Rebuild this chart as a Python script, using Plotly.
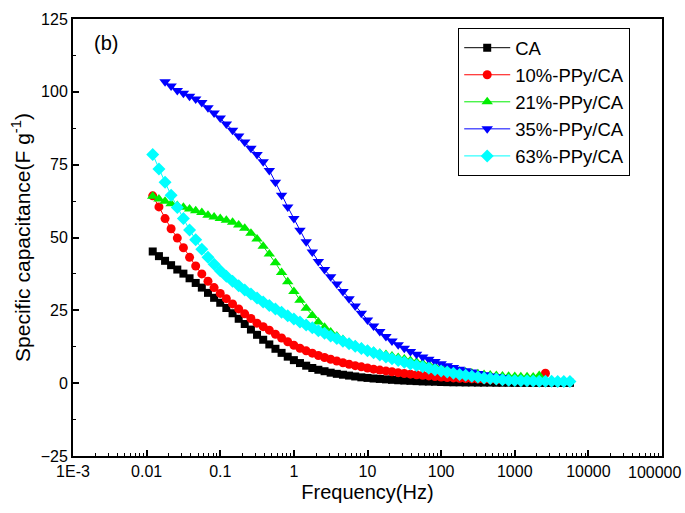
import plotly.graph_objects as go

# Frequencies (Hz), ~12 points per decade
freq = [0.0121, 0.0147, 0.0178, 0.0215, 0.0261, 0.0316, 0.0383, 0.0464, 0.0562, 0.0681, 0.0825,
        0.1, 0.121, 0.147, 0.178, 0.215, 0.261, 0.316, 0.383, 0.464, 0.562, 0.681, 0.825,
        1, 1.21, 1.47, 1.78, 2.15, 2.61, 3.16, 3.83, 4.64, 5.62, 6.81, 8.25,
        10, 12.1, 14.7, 17.8, 21.5, 26.1, 31.6, 38.3, 46.4, 56.2, 68.1, 82.5,
        100, 121, 147, 178, 215, 261, 316, 383, 464, 562, 681, 825,
        1000, 1210, 1470, 1780, 2150, 2610, 3160, 3830, 4640, 5620]

ca = [45.2, 43.6, 42.0, 40.5, 39.0, 37.6, 36.0, 34.4, 32.8, 31.0, 29.3,
      27.6, 25.8, 24.0, 22.1, 20.3, 18.4, 16.6, 14.9, 13.3, 11.8, 10.4, 9.1,
      7.9, 6.9, 6.0, 5.2, 4.6, 4.1, 3.6, 3.2, 2.9, 2.6, 2.3, 2.0,
      1.8, 1.6, 1.45, 1.3, 1.15, 1.0, 0.9, 0.8, 0.7, 0.6, 0.55, 0.5,
      0.4, 0.35, 0.3, 0.3, 0.25, 0.25, 0.2, 0.2, 0.2, 0.15, 0.15, 0.15,
      0.1, 0.1, 0.1, 0.1, 0.1, 0.1, 0.1, 0.1, 0.1, 0.1]

ppy10 = [64.3, 60.5, 56.5, 53.0, 49.8, 46.5, 43.2, 40.2, 37.5, 35.0, 32.8,
         30.8, 29.0, 27.2, 25.5, 23.8, 22.2, 20.6, 19.4, 18.2, 16.8, 15.5, 14.2,
         13.0, 12.0, 11.1, 10.3, 9.5, 8.8, 8.2, 7.6, 7.0, 6.5, 6.0, 5.6,
         5.2, 4.8, 4.5, 4.2, 3.9, 3.6, 3.3, 3.1, 2.9, 2.7, 2.5, 2.3,
         2.1, 1.95, 1.8, 1.7, 1.6, 1.5, 1.4, 1.3, 1.2, 1.15, 1.1, 1.05,
         1.0, 0.95, 0.9, 0.9, 0.85, 3.4, None, None, None, None]

ppy21 = [64.2, 63.2, 62.4, 61.6, 61.0, 60.4, 59.8, 59.2, 58.6, 57.6, 57.0,
         56.5, 55.9, 55.2, 54.3, 53.2, 51.5, 49.5, 47.0, 44.3, 41.3, 38.0, 34.8,
         31.5, 28.5, 25.7, 23.2, 21.0, 19.2, 17.6, 16.2, 15.0, 13.9, 13.0, 12.2,
         11.5, 10.9, 10.3, 9.8, 9.3, 8.8, 8.3, 7.8, 7.3, 6.8, 6.3, 5.8,
         5.3, 4.9, 4.5, 4.1, 3.8, 3.5, 3.2, 3.0, 2.8, 2.6, 2.5, 2.4,
         2.3, 2.2, 2.2, 2.1, 2.6, None, None, None, None, None]

ppy35 = [None, None, 103.5, 102.0, 100.5, 99.5, 98.5, 97.5, 96.3, 94.5, 92.7,
         91.0, 89.0, 86.8, 84.8, 82.8, 80.6, 78.5, 76.0, 73.0, 69.0, 64.5, 60.5,
         56.5, 52.5, 48.5, 45.0, 41.8, 39.0, 36.5, 34.0, 31.5, 29.0, 26.5, 24.0,
         21.7, 19.6, 17.7, 16.0, 14.5, 13.2, 12.0, 10.9, 9.9, 9.0, 8.2, 7.4,
         6.7, 6.0, 5.4, 4.8, 4.3, 3.8, 3.3, 2.9, 2.5, 2.2, 1.9, None,
         None, None, None, None, None, None, None, None, None, None]

ppy63 = [78.5, 73.5, 69.0, 64.5, 60.3, 56.5, 52.6, 49.2, 46.0, 43.2, 40.8,
         38.6, 36.7, 35.0, 33.4, 32.0, 30.6, 29.2, 27.9, 26.7, 25.5, 24.3, 23.1,
         22.0, 21.0, 20.0, 19.0, 18.0, 17.1, 16.2, 15.3, 14.4, 13.5, 12.7, 11.9,
         11.1, 10.4, 9.7, 9.0, 8.4, 7.8, 7.2, 6.6, 6.1, 5.6, 5.1, 4.6,
         4.2, 3.8, 3.4, 3.0, 2.7, 2.4, 2.1, 1.8, 1.6, 1.4, 1.2, 1.0,
         0.9, 0.85, 0.8, 0.75, 0.7, 0.7, 0.65, 0.6, 0.6, 0.6]

names = ["CA", "10%-PPy/CA", "21%-PPy/CA", "35%-PPy/CA", "63%-PPy/CA"]
series = [ca, ppy10, ppy21, ppy35, ppy63]
colors = ["#000000", "#FF0000", "#00EE00", "#0000FF", "#00FFFF"]
symbols = ["square", "circle", "triangle-up", "triangle-down", "diamond"]
sizes = [8, 9, 10, 10, 10]

x_tickvals = [0.001, 0.01, 0.1, 1, 10, 100, 1000, 10000, 100000]
x_ticktext = ["1E-3", "0.01", "0.1", "1", "10", "100", "1000", "10000", "100000"]
y_tickvals = [-25, 0, 25, 50, 75, 100, 125]

# minor tick positions (axis decoration only)
x_minor = [m * d for d in x_tickvals[:-1] for m in range(2, 10)]
y_minor = [v + 12.5 for v in y_tickvals[:-1]]

FONT = "Liberation Sans, Arial, sans-serif"

fig = go.Figure()
for n, s, c, sym, sz in zip(names, series, colors, symbols, sizes):
    xs = [f for f, v in zip(freq, s) if v is not None]
    ys = [v for v in s if v is not None]
    fig.add_trace(go.Scatter(
        x=xs, y=ys, name=n, mode="lines+markers",
        line=dict(color=c, width=1),
        marker=dict(symbol=sym, size=sz, color=c, line=dict(width=0)),
    ))

# last tick label is drawn as an annotation, nudged left so it stays inside the page
shown_ticktext = x_ticktext[:-1] + [""]

fig.update_layout(
    width=685, height=513,
    margin=dict(l=73, r=23, t=19, b=57),
    paper_bgcolor="white", plot_bgcolor="white",
    font=dict(family=FONT, color="black", size=16),
    showlegend=True,
    legend=dict(
        x=0.654, y=0.979, xanchor="left", yanchor="top",
        bordercolor="black", borderwidth=1, bgcolor="white",
        font=dict(family=FONT, size=18.5, color="black"),
        itemwidth=46, tracegroupgap=0,
    ),
    annotations=[
        dict(text="(b)", xref="paper", yref="paper", x=0.033, y=0.945,
             xanchor="left", yanchor="middle", showarrow=False,
             font=dict(family=FONT, size=20, color="black")),
        dict(text=x_ticktext[-1], xref="paper", yref="paper", x=1.0, y=0.0,
             xanchor="right", yanchor="top", xshift=21, yshift=-6, showarrow=False,
             font=dict(family=FONT, size=16, color="black")),
    ],
)

fig.update_xaxes(
    type="log", range=[-3, 5], automargin=False,
    tickvals=x_tickvals, ticktext=shown_ticktext,
    ticks="inside", ticklen=6, tickwidth=1.5, tickcolor="black",
    minor=dict(tickvals=x_minor, ticks="inside", ticklen=3, tickwidth=1,
               tickcolor="black", showgrid=False),
    showline=True, linecolor="black", linewidth=2, mirror=True,
    showgrid=False, zeroline=False,
    tickfont=dict(family=FONT, size=16),
    title=dict(text="Frequency(Hz)", font=dict(family=FONT, size=20), standoff=6),
)
fig.update_yaxes(
    range=[-25, 125], tickvals=y_tickvals, automargin=False,
    ticks="inside", ticklen=6, tickwidth=1.5, tickcolor="black",
    minor=dict(tickvals=y_minor, ticks="inside", ticklen=3, tickwidth=1,
               tickcolor="black", showgrid=False),
    showline=True, linecolor="black", linewidth=2, mirror=True,
    showgrid=False, zeroline=False,
    tickfont=dict(family=FONT, size=16),
    title=dict(text="Specific capacitance(F g<sup>-1</sup>)", font=dict(family=FONT, size=21), standoff=4),
)

fig.write_html("out.html")
